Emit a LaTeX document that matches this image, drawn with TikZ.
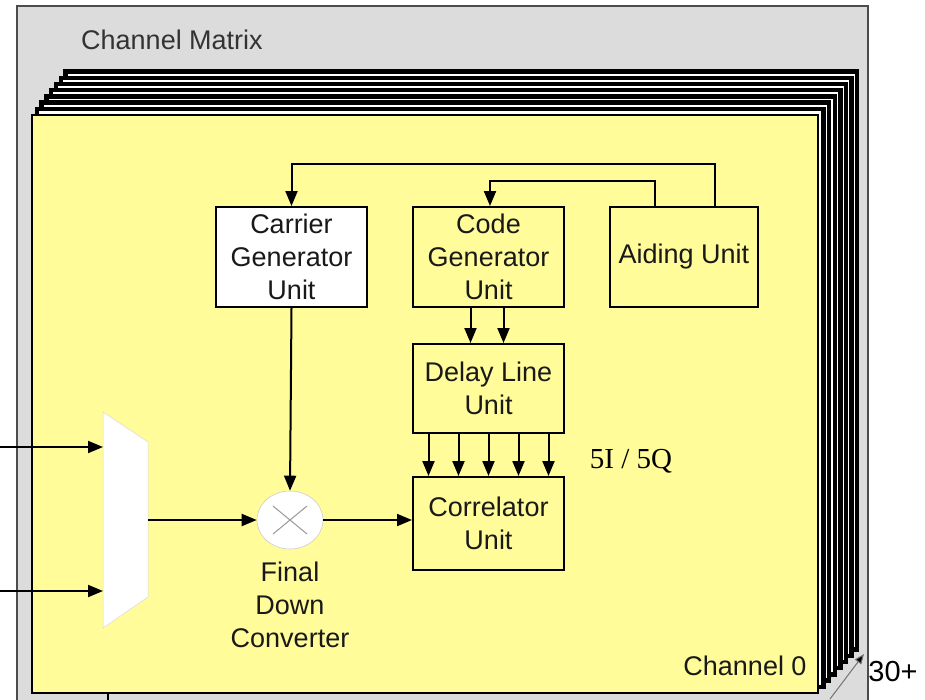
\documentclass[tikz,border=0pt]{standalone}
\usepackage{fontspec}
\setmainfont{Liberation Sans}
\newfontfamily\numserif{Liberation Serif}
\usetikzlibrary{arrows.meta,shapes.geometric}

\definecolor{panelyellow}{HTML}{FFFC99}
\definecolor{matrixgray}{HTML}{DCDCDC}

\begin{document}
\begin{tikzpicture}[x=1pt,y=-1pt,
  txt/.style={font=\fontsize{27}{33}\selectfont, align=center, text=black!90, inner sep=0pt},
  unit/.style={txt, draw=black, line width=2pt, minimum width=151pt, minimum height=100pt},
  conn/.style={line width=2pt, -{Stealth[length=15pt,width=12pt,inset=0pt]}},
  layer/.style={fill=white, draw=black, line width=4.3pt},
]
\useasboundingbox (0,0) rectangle (925,699);

% channel matrix frame
\draw[fill=matrixgray, draw=black!70, line width=2pt] (17,6) rectangle (868,730);
\node[txt, text=black!80] (matrixlbl) at (172,40) {Channel Matrix};

% stacked channels behind the front one
\foreach \i in {7,6,...,1}
  \draw[layer] ({32+4.8*\i},{115-6.2*\i}) rectangle ({818+5.6*\i},{693-6.2*\i});

% front channel
\draw[fill=panelyellow, draw=black, line width=2pt] (32,115) rectangle (818,693);
\node[txt] (chlbl) at (745,666) {Channel 0};

% channel count marker
\coordinate (cntfrom) at (830,699);
\coordinate (cntto) at (864,654);
\draw[black!55, line width=1pt, -{Stealth[length=10pt,width=8pt,inset=0pt,fill=black]}] (cntfrom) -- (cntto);
\node[txt, text=black, font=\fontsize{29}{33}\selectfont] (cntlbl) at (893,672) {30+};

% processing units
\node[unit, fill=white] (carrier) at (291.5,257) {Carrier\\Generator\\Unit};
\node[unit] (codegen) at (488.5,257) {Code\\Generator\\Unit};
\node[unit, minimum width=148pt] (aiding) at (684,257) {Aiding Unit};
\node[unit, minimum height=89pt] (delay) at (488.5,388.5) {Delay Line\\Unit};
\node[unit, minimum height=93pt] (correl) at (488.5,523.5) {Correlator\\Unit};

% input multiplexer
\fill[white, draw=black!15, line width=0.5pt] (103,412) -- (148,442) -- (148,597) -- (103,628) -- cycle;
\coordinate (muxin1) at (103,447);
\coordinate (muxin2) at (103,591);
\coordinate (muxout) at (148,520);
\coordinate (src1) at (0,447);
\coordinate (src2) at (0,591);

% final down converter (mixer)
\node[ellipse, fill=white, draw=black!20, line width=0.6pt, minimum width=66pt, minimum height=58pt, inner sep=0pt] (mixer) at (290,520) {};
\draw[black!40, line width=1pt] (273,506) -- (307,534) (273,534) -- (307,506);
\node[txt] (mixlbl) at (290,605) {Final\\Down\\Converter};

% signal path
\draw[conn] (src1) -- (muxin1);
\draw[conn] (src2) -- (muxin2);
\draw[conn] (muxout) -- (mixer.west);
\draw[conn] (carrier.south) -- (mixer.north);
\draw[conn] (mixer.east) -- (mixer.east -| correl.west);

% aiding feedback
\draw[conn] ([xshift=31pt]aiding.north) -- ++(0,-42) -| (carrier.north);
\draw[conn] ([xshift=-29pt]aiding.north) -- ++(0,-25) -| ([xshift=1.5pt]codegen.north);

% code to delay line
\foreach \dx in {-18,15}
  \draw[conn] ([xshift=\dx pt]codegen.south) -- ([xshift=\dx pt]delay.north);

% delay line taps to correlator
\foreach \dx in {-60,-30,0,30,60}
  \draw[conn] ([xshift=\dx pt]delay.south) -- ([xshift=\dx pt]correl.north);
\node[font=\numserif\fontsize{29}{30}\selectfont, inner sep=0pt] (taplbl) at (631,461) {5I / 5Q};

% output leaving the channel
\coordinate (outtop) at (108,693);
\coordinate (outbot) at (108,710);
\draw[line width=1.5pt] (outtop) -- (outbot);
\end{tikzpicture}
\end{document}
